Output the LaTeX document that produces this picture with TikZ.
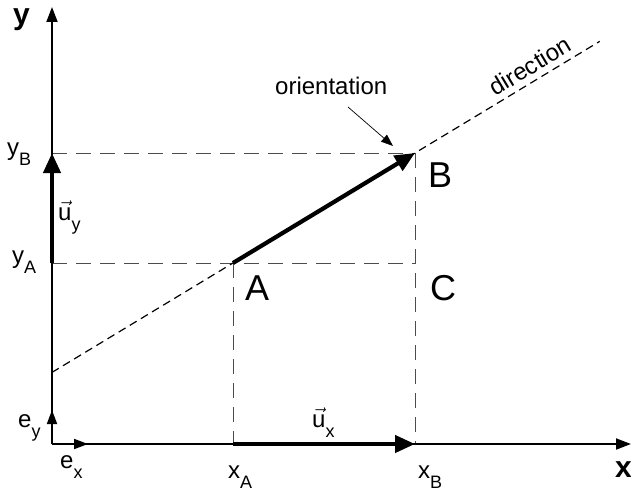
\documentclass[tikz,border=0pt]{standalone}
\usepackage{fontspec}
\setmainfont{Liberation Sans}
\usetikzlibrary{arrows.meta,positioning,calc}
\newcommand{\sublbl}[2]{#1\raisebox{-10pt}{\fontsize{18}{18}\selectfont #2}}
\newcommand{\uvec}{\ensuremath{\vec{\mbox{u}}}}
\tikzset{
  axisarr/.style={line width=1.8pt, -{Triangle[length=15pt, width=11pt]}},
  unitarr/.style={line width=1.8pt, -{Triangle[length=14pt, width=10pt]}},
  vecarr/.style={line width=4.2pt, -{Triangle[length=20pt, width=17pt]}},
  guide/.style={black!70, line width=0.8pt, dash pattern=on 15pt off 9pt},
  dirline/.style={line width=1.2pt, dash pattern=on 8pt off 5pt},
  notearr/.style={line width=0.7pt, -{Triangle[length=12pt, width=9pt]}},
  lbl/.style={inner sep=0pt, font=\fontsize{24}{28}\selectfont},
  ptlbl/.style={inner sep=0pt, font=\fontsize{36}{40}\selectfont},
  axlbl/.style={inner sep=0pt, font=\fontsize{30}{34}\selectfont\bfseries},
}
\begin{document}
\begin{tikzpicture}[x=1pt, y=1pt]
  \useasboundingbox (0,0) rectangle (631,491);
  % points
  \coordinate (O) at (52,47);
  \coordinate (A) at (233,228);
  \coordinate (B) at (415,338);
  \coordinate (C) at (B |- A);
  \coordinate (xA) at (A |- O);
  \coordinate (xB) at (B |- O);
  \coordinate (yA) at (O |- A);
  \coordinate (yB) at (O |- B);
  \coordinate (xend) at (631,47);
  \coordinate (yend) at (52,484);
  \coordinate (ex) at (88,47);
  \coordinate (ey) at (52,81);
  \coordinate (d1) at ($(A)!-0.995!(B)$);
  \coordinate (d2) at ($(A)!2.015!(B)$);
  \coordinate (orstart) at (348,384);
  \coordinate (ortip) at (393,345);

  % projections
  \draw[guide] (yB) -- (B);
  \draw[guide] (yA) -- (C);
  \draw[guide] (A) -- (xA);
  \draw[guide] (B) -- (xB);
  \draw[dirline] (d1) -- (d2);

  % axes and unit vectors
  \draw[axisarr] (O) -- (xend);
  \draw[axisarr] (O) -- (yend);
  \draw[unitarr] (O) -- (ex);
  \draw[unitarr] (O) -- (ey);
  \draw[vecarr] (A) -- (B);
  \draw[vecarr] (xA) -- (xB);
  \draw[vecarr] (yA) -- (yB);

  % labels
  \node[axlbl, anchor=base west] (ylbl) at (13,466) {y};
  \node[axlbl, anchor=base west] (xlbl) at (615,14) {x};
  \node[ptlbl, anchor=base west] (Albl) at (245,191) {A};
  \node[ptlbl, anchor=base west] (Blbl) at (428,304) {B};
  \node[ptlbl, anchor=base west] (Clbl) at (430,191) {C};
  \node[lbl, anchor=base west] (xAlbl) at (228,13) {\sublbl{x}{A}};
  \node[lbl, anchor=base west] (xBlbl) at (418,13) {\sublbl{x}{B}};
  \node[lbl, anchor=base west] (exlbl) at (60,23) {\sublbl{e}{x}};
  \node[lbl, anchor=base west] (eylbl) at (18,64) {\sublbl{e}{y}};
  \node[lbl, anchor=base west] (yAlbl) at (12,228) {\sublbl{y}{A}};
  \node[lbl, anchor=base west] (yBlbl) at (7,336) {\sublbl{y}{B}};
  \node[lbl, anchor=base west] (uylbl) at (58,271) {\sublbl{\uvec}{y}};
  \node[lbl, anchor=base west] (uxlbl) at (312,64) {\sublbl{\uvec}{x}};
  \node[lbl, anchor=base west] (orient) at (275,396) {orientation};
  \node[lbl, rotate=31] (dirlbl) at (530,425) {direction};
  \draw[notearr] (orstart) -- (ortip);
\end{tikzpicture}
\end{document}
